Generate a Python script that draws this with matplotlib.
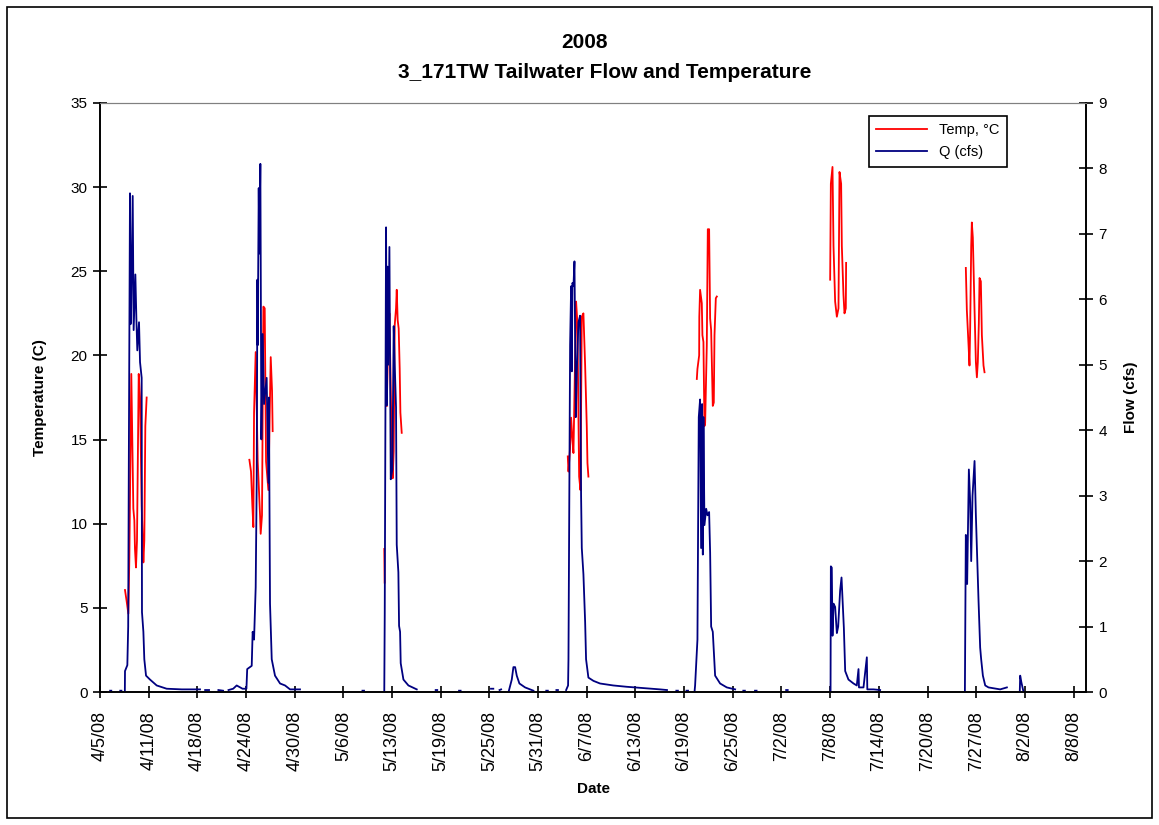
import numpy as np
import matplotlib
matplotlib.use("Agg")
import matplotlib.pyplot as plt
from matplotlib.lines import Line2D
from matplotlib.patches import Rectangle

nan = np.nan

# x values are days after 4/5/08 00:00
tick_labels = ["4/5/08", "4/11/08", "4/18/08", "4/24/08", "4/30/08", "5/6/08",
               "5/13/08", "5/19/08", "5/25/08", "5/31/08", "6/7/08", "6/13/08",
               "6/19/08", "6/25/08", "7/2/08", "7/8/08", "7/14/08", "7/20/08",
               "7/27/08", "8/2/08", "8/8/08"]

# flow, cfs (right axis); nan marks gaps in the record
q_days = [
    1.30, 1.45, nan, 2.60, 2.75, nan,
    # April 8 event
    3.19, 3.21, 3.51, 3.62, 3.70, 3.85, 3.92, 3.98, 4.20, 4.32, 4.54, 4.67, 4.79,
    5.01, 5.14, 5.35, 5.39, 5.57, 5.69, 5.91, 6.42, 7.28, 8.56, 10.5, 12.84, nan,
    13.5, 14.0, nan, 15.2, 15.8, nan, 16.5, 17.1, 17.55, 18.3,
    # April 24 event
    18.8, 18.9, 19.48, 19.6, 19.78, 19.99, 20.12, 20.21, 20.25, 20.38, 20.46,
    20.59, 20.72, 20.89, 21.06, 21.4, 21.62, 21.7, 21.75, 21.83, 22.05, 22.47,
    23.12, 23.76, 24.4, 25.68, nan,
    33.7, 33.9, nan,
    # May 12 event
    36.5, 36.56, 36.73, 36.82, 36.9, 36.99, 37.16, 37.33, 37.54, 37.71, 37.84,
    38.01, 38.1, 38.31, 38.4, 38.53, 38.61, 38.96, 39.6, 40.67, nan,
    43.1, 43.3, nan, 46.1, 46.3, nan, 50.2, 50.5, nan, 51.3, 51.5, nan,
    # late May bump
    52.5, 52.87, 53.08, 53.3, 53.51, 53.85, 54.58, 55.65, nan,
    57.3, 57.5, nan, 58.6, 58.8, nan,
    # June 5 event
    59.85, 60.1, 60.15, 60.27, 60.36, 60.49, 60.58, 60.66, 60.79, 60.92, 61.09,
    61.22, 61.43, 61.64, 61.77, 61.86, 62.07, 62.29, 62.41, 62.71, 63.36, 64.2,
    65.9, 67.6, 69.8, 71.9, 72.8, nan,
    74.0, 74.2, nan, 75.3, 75.5, nan,
    # June 21 event
    76.35, 76.41, 76.71, 76.88, 77.05, 77.18, 77.31, 77.4, 77.48, 77.61, 77.83,
    78.0, 78.21, 78.34, 78.47, 78.68, 78.98, 79.62, 80.48, 81.55, nan,
    82.6, 82.8, nan, 84.1, 84.3, nan, 88.1, 88.3, nan,
    # July 8 event
    93.8, 93.84, 93.96, 94.05, 94.18, 94.39, 94.61, 94.78, 95.03, 95.21, 95.33,
    95.51, 95.68, 96.1, 96.75, 97.17, 97.39, 97.45, 98.03, 98.46, 98.52, 99.32,
    100.17, nan,
    # July 26 event
    111.05, 111.17, 111.34, 111.56, 111.73, 111.86, 112.03, 112.29, 112.46,
    112.67, 112.8, 113.01, 113.14, 113.36, 113.66, 114.08, 115.58, 116.44, nan,
    118.1, 118.15, 118.3, 118.58,
]
q_cfs = [
    0.02, 0.02, nan, 0.02, 0.02, nan,
    0.0, 0.32, 0.41, 1.0, 3.5, 7.62, 5.62, 5.7, 7.58, 5.53, 6.38, 5.71, 5.22,
    5.65, 5.04, 4.8, 1.22, 0.92, 0.5, 0.25, 0.19, 0.1, 0.05, 0.04, 0.04, nan,
    0.03, 0.03, nan, 0.03, 0.02, nan, 0.03, 0.05, 0.1, 0.05,
    0.05, 0.35, 0.4, 0.92, 0.8, 1.6, 3.2, 6.3, 5.3, 7.7, 6.7,
    8.07, 3.86, 5.47, 4.4, 4.8, 3.2, 4.5, 3.1, 1.35, 0.5, 0.25,
    0.13, 0.1, 0.04, 0.04, nan,
    0.02, 0.02, nan,
    0.0, 1.2, 7.1, 4.38, 6.5, 5.0, 6.8, 3.25, 3.4, 5.59, 5.0,
    4.35, 2.25, 1.83, 1.01, 0.92, 0.44, 0.19, 0.1, 0.04, nan,
    0.03, 0.03, nan, 0.02, 0.02, nan, 0.05, 0.05, nan, 0.03, 0.04, nan,
    0.02, 0.19, 0.38, 0.38, 0.25, 0.13, 0.07, 0.02, nan,
    0.02, 0.02, nan, 0.03, 0.03, nan,
    0.03, 0.1, 0.5, 3.2, 5.3, 6.2, 4.9, 6.25, 6.2, 6.58, 4.2,
    4.9, 5.65, 5.75, 3.0, 2.2, 1.8, 1.07, 0.5, 0.22, 0.17, 0.13,
    0.1, 0.08, 0.06, 0.04, 0.03, nan,
    0.02, 0.02, nan, 0.02, 0.02, nan,
    0.02, 0.1, 0.8, 4.2, 4.47, 2.2, 4.4, 2.1, 4.2, 2.55, 2.8,
    2.7, 2.75, 2.13, 1.0, 0.92, 0.25, 0.13, 0.07, 0.04, nan,
    0.02, 0.02, nan, 0.02, 0.02, nan, 0.03, 0.03, nan,
    0.0, 1.92, 1.9, 0.86, 1.35, 1.3, 0.9, 1.0, 1.55, 1.75, 1.45,
    0.98, 0.32, 0.19, 0.13, 0.1, 0.35, 0.07, 0.07, 0.53, 0.04, 0.04,
    0.03, nan,
    0.0, 2.4, 1.65, 3.4, 2.9, 2.0, 3.0, 3.53, 2.7,
    1.9, 1.4, 0.68, 0.5, 0.25, 0.1, 0.07, 0.04, 0.07, nan,
    0.02, 0.25, 0.15, 0.0,
]

# water temperature, deg C (left axis)
t_days = [
    3.21, 3.42, 3.64, 3.77, 4.02, 4.28, 4.41, 4.49, 4.62, 4.75, 4.97, 5.14, 5.35,
    5.57, 5.69, 5.82, 5.99, nan,
    19.18, 19.39, 19.56, 19.69, 19.78, 19.99, 20.25, 20.55, 20.63, 20.8, 20.98,
    21.15, 21.32, 21.62, 21.92, 22.09, 22.17, nan,
    36.5, 36.55, nan,
    36.82, 37.03, 37.16, 37.37, 37.58, 37.71, 37.84, 38.01, 38.1, 38.22, 38.35,
    38.48, 38.57, 38.74, nan,
    60.06, 60.15, 60.36, 60.49, 60.66, 60.79, 61.13, 61.3, 61.52, 61.69, 61.86,
    62.07, 62.29, 62.5, 62.59, 62.71, nan,
    76.63, 76.71, 76.93, 76.95, 77.05, 77.27, 77.35, 77.48, 77.61, 77.7, 77.91,
    78.04, 78.21, 78.34, 78.47, 78.68, 78.81, 78.9, 79.07, 79.2, nan,
    93.75, 93.84, 94.05, 94.18, 94.39, 94.61, 94.82, 94.95, 95.16, 95.25, 95.46,
    95.59, 95.76, 95.8, nan,
    111.17, 111.3, 111.52, 111.64, 111.73, 111.86, 111.94, 112.07, 112.29,
    112.46, 112.59, 112.71, 112.84, 112.93, 113.1, 113.23, 113.44, 113.57,
]
t_degc = [
    6.06, 5.4, 4.65, 8.0, 18.9, 10.9, 10.2, 8.5, 7.4, 9.0, 18.9, 17.5, 11.1,
    7.7, 9.0, 15.8, 17.5, nan,
    13.8, 13.1, 11.1, 9.8, 16.6, 20.2, 13.7, 10.5, 9.4, 10.5, 22.9,
    22.8, 13.7, 12.0, 19.9, 17.9, 15.5, nan,
    8.5, 6.5, nan,
    17.0, 21.5, 22.5, 17.0, 12.7, 14.3, 21.8, 22.8, 23.9, 22.1, 21.6,
    19.2, 16.6, 15.4, nan,
    14.0, 13.1, 14.5, 16.3, 15.0, 14.2, 23.2, 21.9, 12.8, 12.0, 22.3,
    22.5, 19.4, 15.8, 13.6, 12.8, nan,
    18.6, 19.2, 20.0, 22.3, 23.9, 23.1, 21.2, 20.8, 15.8, 16.0, 20.6,
    27.5, 27.5, 22.2, 21.5, 17.0, 17.2, 21.2, 23.4, 23.5, nan,
    24.5, 30.2, 31.2, 26.5, 23.2, 22.3, 22.8, 30.9, 30.2, 26.5, 23.6,
    22.5, 22.8, 25.5, nan,
    25.2, 22.7, 20.6, 19.4, 21.7, 26.5, 27.9, 27.0, 22.7,
    19.6, 18.7, 19.6, 21.9, 24.6, 24.4, 21.2, 19.4, 19.0,
]


def plot_tailwater():
    plt.rcParams['font.family'] = ['Liberation Sans', 'DejaVu Sans']

    W, H = 1159, 825
    fig = plt.figure(figsize=(W / 100, H / 100), dpi=100)
    fig.patches.append(Rectangle((7 / W, 7 / H), 1145 / W, 811 / H,
                                 transform=fig.transFigure, fill=False,
                                 edgecolor='black', linewidth=1.2))

    ax = fig.add_axes([100 / W, 1 - 692 / H, 986 / W, 589 / H])
    ax2 = ax.twinx()

    ax.plot(t_days, t_degc, color='#FF0000', lw=1.3)
    ax2.plot(q_days, q_cfs, color='#000080', lw=1.3)

    # last tick (8/8) sits a little short of the right axis
    ax.set_xlim(0, 126.6)
    ax.set_ylim(0, 35)
    ax2.set_ylim(0, 9)
    ax.set_yticks(range(0, 36, 5))
    ax2.set_yticks(range(0, 10))
    ax.set_xticks([6.25 * i for i in range(len(tick_labels))])
    ax.set_xticklabels(tick_labels, rotation=90)

    for a in (ax, ax2):
        for s in ('left', 'right', 'bottom'):
            a.spines[s].set_color('black')
            a.spines[s].set_linewidth(1.2)
        a.spines['top'].set_color('#808080')

    ax.tick_params(axis='x', direction='inout', length=9, width=1.2, labelsize=13, pad=9)
    ax.tick_params(axis='y', direction='inout', length=10, width=1.2, labelsize=11, pad=4)
    ax2.tick_params(axis='y', direction='inout', length=10, width=1.2, labelsize=11, pad=4)

    ax.set_ylabel('Temperature (C)', fontsize=11, fontweight='bold', labelpad=17)
    ax2.set_ylabel('Flow (cfs)', fontsize=11, fontweight='bold', rotation=90, labelpad=12)
    ax.set_xlabel('Date', fontsize=11, fontweight='bold', labelpad=8)

    fig.text(585 / W, 1 - 43 / H, '2008', ha='center', va='center',
             fontsize=15, fontweight='bold')
    fig.text(605 / W, 1 - 73 / H, '3_171TW Tailwater Flow and Temperature',
             ha='center', va='center', fontsize=15, fontweight='bold')

    handles = [Line2D([], [], color='#FF0000', lw=1.3),
               Line2D([], [], color='#000080', lw=1.3)]
    leg = ax2.legend(handles, ['Temp, \u00b0C', 'Q (cfs)'], loc='upper left',
                     bbox_to_anchor=(0.78, 0.978), fontsize=10.5, fancybox=False,
                     framealpha=1, edgecolor='black', borderaxespad=0,
                     handlelength=3.5, borderpad=0.5, labelspacing=0.55,
                     handletextpad=0.8)
    leg.get_frame().set_linewidth(1.2)

    fig.savefig('out.png', dpi=100)


if __name__ == "__main__":
    plot_tailwater()
